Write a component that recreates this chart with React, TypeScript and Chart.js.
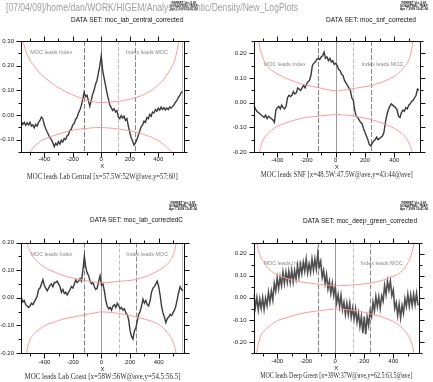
import React, { useEffect, useRef } from "react";
import { Chart, registerables } from "chart.js";
Chart.register(...registerables);

const W = 433;
const H = 382;

const header = "[07/04/09]/home/dan/WORK/HIGEM/Analysis/Atlantic/Density/New_LogPlots";
const logoLines = ["FERRET Ver. 5.81", "NOAA/PMEL TMAP", "Apr 7 2009 15:41:04"];
const noteLeft = "MOC leads Index";
const noteRight = "Index leads MOC";
const noteLeftLag = -350;
const noteRightLag = 320;

const lags = [
  -560, -550, -540, -530, -520, -510, -500, -490, -480, -470,
  -460, -450, -440, -430, -420, -410, -400, -390, -380, -370,
  -360, -350, -340, -330, -320, -310, -300, -290, -280, -270,
  -260, -250, -240, -230, -220, -210, -200, -190, -180, -170,
  -160, -150, -140, -130, -120, -110, -100, -90, -80, -70,
  -60, -50, -40, -30, -20, -10, 0, 10, 20, 30,
  40, 50, 60, 70, 80, 90, 100, 110, 120, 130,
  140, 150, 160, 170, 180, 190, 200, 210, 220, 230,
  240, 250, 260, 270, 280, 290, 300, 310, 320, 330,
  340, 350, 360, 370, 380, 390, 400, 410, 420, 430,
  440, 450, 460, 470, 480, 490, 500, 510, 520, 530,
  540, 550, 560, 570,
];

const labCentral = [
  -0.028, -0.038, -0.030, -0.042, -0.032, -0.040, -0.030, -0.045, -0.040, -0.052,
  -0.038, -0.045, -0.030, -0.022, -0.008, -0.015, -0.040, -0.055, -0.068, -0.080,
  -0.092, -0.100, -0.112, -0.128, -0.115, -0.122, -0.108, -0.118, -0.102, -0.110,
  -0.095, -0.100, -0.085, -0.080, -0.062, -0.058, -0.040, -0.035, -0.018, -0.010,
  0.008, 0.020, 0.038, 0.062, 0.092, 0.075, 0.080, 0.058, 0.035, 0.060,
  0.085, 0.100, 0.125, 0.140, 0.170, 0.200, 0.240, 0.180, 0.150, 0.120,
  0.090, 0.065, 0.040, 0.030, 0.018, 0.025, 0.012, 0.018, -0.008, -0.015,
  -0.002, -0.012, -0.005, -0.022, -0.015, -0.045, -0.070, -0.092, -0.105, -0.122,
  -0.112, -0.100, -0.082, -0.065, -0.048, -0.040, -0.025, -0.030, -0.010, -0.015,
  0.002, -0.005, 0.012, 0.008, 0.022, 0.015, 0.028, 0.020, 0.032, 0.022,
  0.030, 0.020, 0.028, 0.022, 0.032, 0.028, 0.035, 0.040, 0.052, 0.058,
  0.070, 0.078, 0.090, 0.095,
];

const snf = [
  -0.010, -0.025, -0.035, -0.040, -0.045, -0.050, -0.055, -0.060, -0.050, -0.065,
  -0.055, -0.060, -0.065, -0.070, -0.080, -0.030, -0.020, -0.015, -0.025, -0.010,
  -0.020, -0.025, -0.015, 0.020, 0.030, 0.025, 0.030, 0.045, 0.035, 0.040,
  0.060, 0.055, 0.050, 0.060, 0.070, 0.060, 0.075, 0.085, 0.090, 0.110,
  0.150, 0.160, 0.165, 0.175, 0.180, 0.175, 0.185, 0.190, 0.205, 0.180,
  0.185, 0.170, 0.180, 0.165, 0.170, 0.155, 0.160, 0.150, 0.135, 0.130,
  0.115, 0.110, 0.090, 0.080, 0.070, 0.060, 0.050, 0.020, 0.010, -0.030,
  -0.055, -0.060, -0.070, -0.080, -0.085, -0.105, -0.120, -0.135, -0.150, -0.170,
  -0.175, -0.165, -0.155, -0.150, -0.140, -0.150, -0.145, -0.140, -0.135, -0.120,
  -0.080, -0.050, -0.030, -0.015, -0.005, -0.010, -0.015, -0.020, -0.030, -0.055,
  -0.060, -0.040, -0.030, -0.035, -0.020, -0.025, -0.010, -0.005, 0.005, 0.010,
  0.020, 0.030, 0.055, 0.050,
];

const labCoast = [
  0.000, -0.015, -0.010, -0.025, -0.030, -0.035, -0.030, -0.020, -0.025, -0.015,
  -0.005, 0.005, 0.030, 0.035, 0.050, 0.065, 0.045, 0.035, 0.025, 0.035,
  0.045, 0.050, 0.040, 0.055, 0.055, 0.060, 0.050, 0.040, 0.020, 0.030,
  0.015, 0.020, 0.010, 0.020, 0.030, 0.040, 0.035, 0.050, 0.065, 0.055,
  0.060, 0.070, 0.060, 0.100, 0.150, 0.110, 0.090, 0.080, 0.060, 0.050,
  0.055, 0.040, 0.030, 0.035, 0.060, 0.080, 0.045, 0.050, 0.025, -0.010,
  -0.030, -0.040, -0.035, -0.045, -0.030, -0.025, -0.035, -0.020, -0.030, -0.040,
  -0.035, -0.045, -0.040, -0.055, -0.060, -0.080, -0.120, -0.140, -0.150, -0.120,
  -0.110, -0.085, -0.060, -0.050, -0.030, -0.005, -0.020, -0.010, -0.025, -0.030,
  -0.010, 0.020, 0.035, 0.040, 0.050, 0.060, 0.040, 0.010, -0.030, -0.055,
  -0.070, -0.090, -0.075, -0.070, -0.060, -0.065, -0.055, -0.045, -0.030, -0.005,
  0.020, 0.040, 0.030, 0.025,
];

const deepGreen = [
  0.015, -0.043, 0.000, -0.055, -0.005, -0.048, 0.000, -0.053, -0.002, -0.035,
  0.025, -0.020, 0.030, -0.010, 0.065, 0.030, 0.090, 0.042, 0.093, 0.055,
  0.115, 0.065, 0.115, 0.070, 0.120, 0.070, 0.125, 0.072, 0.123, 0.085,
  0.145, 0.095, 0.150, 0.110, 0.160, 0.120, 0.175, 0.112, 0.153, 0.115,
  0.175, 0.125, 0.175, 0.130, 0.200, 0.140, 0.165, 0.092, 0.123, 0.065,
  0.105, 0.040, 0.075, 0.020, 0.065, 0.010, 0.050, -0.023, 0.013, -0.040,
  0.010, -0.055, -0.020, -0.075, -0.025, -0.075, -0.025, -0.088, -0.047, -0.095,
  -0.050, -0.110, -0.070, -0.130, -0.085, -0.160, -0.085, -0.165, -0.087, -0.125,
  -0.060, -0.085, -0.020, -0.060, 0.005, -0.040, 0.005, -0.048, 0.008, -0.015,
  0.055, 0.015, 0.075, 0.035, 0.075, 0.010, 0.035, -0.048, -0.022, -0.080,
  -0.030, -0.090, -0.035, -0.070, -0.005, -0.040, 0.015, -0.038, 0.013, -0.035,
  0.015, -0.030, 0.020, -0.035,
];

const boundLags = [
  -560, -540, -520, -500, -480, -460, -440, -420, -400,
  -360, -320, -280, -240, -200, -160, -120, -80, -40, 0, 40, 80, 120, 160, 200, 240, 280, 320, 360,
  400, 420, 440, 460, 480, 500, 520, 540, 560,
];

const upper1 = [0.34, 0.28, 0.245, 0.222, 0.205, 0.19, 0.175, 0.163, 0.153,
  0.135, 0.118, 0.105, 0.092, 0.082, 0.072, 0.063, 0.057, 0.052, 0.050, 0.051, 0.053, 0.055, 0.059, 0.064, 0.070, 0.078, 0.089, 0.103,
  0.122, 0.133, 0.146, 0.162, 0.180, 0.200, 0.232, 0.285, 0.36];
const lower1 = [-0.26, -0.20, -0.17, -0.150, -0.135, -0.122, -0.112, -0.104, -0.098,
  -0.089, -0.081, -0.074, -0.067, -0.062, -0.058, -0.055, -0.053, -0.051, -0.051, -0.052, -0.054, -0.057, -0.060, -0.064, -0.069, -0.075, -0.083, -0.092,
  -0.104, -0.111, -0.120, -0.131, -0.142, -0.155, -0.175, -0.21, -0.27];
const upper2 = [0.40, 0.30, 0.225, 0.185, 0.155, 0.142, 0.132, 0.124, 0.117,
  0.104, 0.094, 0.085, 0.077, 0.071, 0.066, 0.061, 0.056, 0.051, 0.048, 0.050, 0.053, 0.057, 0.061, 0.065, 0.069, 0.076, 0.084, 0.094,
  0.106, 0.114, 0.126, 0.138, 0.152, 0.172, 0.215, 0.30, 0.40];
const lower2 = [-0.40, -0.27, -0.195, -0.155, -0.135, -0.123, -0.112, -0.103, -0.096,
  -0.086, -0.078, -0.070, -0.064, -0.060, -0.057, -0.055, -0.052, -0.050, -0.048, -0.049, -0.051, -0.054, -0.058, -0.063, -0.068, -0.075, -0.083, -0.092,
  -0.104, -0.111, -0.119, -0.128, -0.142, -0.162, -0.195, -0.27, -0.40];
const upper3 = [0.40, 0.27, 0.195, 0.170, 0.150, 0.137, 0.127, 0.118, 0.111,
  0.100, 0.091, 0.083, 0.076, 0.071, 0.067, 0.063, 0.059, 0.056, 0.054, 0.055, 0.057, 0.059, 0.061, 0.063, 0.066, 0.072, 0.079, 0.088,
  0.099, 0.105, 0.113, 0.121, 0.134, 0.153, 0.190, 0.27, 0.40];
const lower3 = [-0.40, -0.27, -0.19, -0.152, -0.136, -0.125, -0.116, -0.108, -0.102,
  -0.093, -0.086, -0.079, -0.074, -0.070, -0.066, -0.062, -0.058, -0.054, -0.051, -0.052, -0.054, -0.057, -0.060, -0.064, -0.069, -0.074, -0.080, -0.087,
  -0.097, -0.104, -0.114, -0.126, -0.140, -0.160, -0.195, -0.27, -0.40];
const upper4 = [0.36, 0.25, 0.195, 0.168, 0.150, 0.133, 0.121, 0.111, 0.104,
  0.093, 0.085, 0.078, 0.072, 0.068, 0.065, 0.062, 0.059, 0.056, 0.054, 0.055, 0.056, 0.058, 0.060, 0.063, 0.066, 0.071, 0.078, 0.086,
  0.097, 0.103, 0.110, 0.122, 0.137, 0.157, 0.188, 0.24, 0.36];
const lower4 = [-0.36, -0.25, -0.185, -0.158, -0.145, -0.132, -0.121, -0.112, -0.104,
  -0.095, -0.087, -0.079, -0.072, -0.067, -0.063, -0.060, -0.056, -0.053, -0.051, -0.052, -0.054, -0.057, -0.061, -0.066, -0.072, -0.078, -0.086, -0.096,
  -0.108, -0.115, -0.125, -0.137, -0.150, -0.168, -0.195, -0.245, -0.36];

const xMajorTicks = [-400, -200, 0, 200, 400];
const xMinorTicks = [-500, -300, -100, 100, 300, 500];
const vLines = [-120, 0, 120, 240];
const edgeLine = 565;

type Panel = {
  title: string;
  caption: string;
  values: number[];
  upper: number[];
  lower: number[];
  yMin: number;
  yMax: number;
  yMajor: number[];
  yMinor: number[];
  noteY: number;
  edge: boolean;
  area: [number, number, number, number];
  titleRight: number;
  titleY: number;
  titleW: number;
  captionY: number;
  captionW: number;
  tickY: number;
  xLabelY: number;
  logo: [number, number];
  lineColor: string;
  lineWidth: number;
};

const panels: Panel[] = [
  {
    title: "DATA SET: moc_lab_central_corrected",
    caption: "MOC leads Lab Central [x=57.5W:52W@ave,y=57:60]",
    values: labCentral, upper: upper1, lower: lower1,
    yMin: -0.15, yMax: 0.3,
    yMajor: [-0.1, 0, 0.1, 0.2, 0.3], yMinor: [-0.15, -0.05, 0.05, 0.15, 0.25],
    noteY: 0.255, edge: true,
    area: [21, 41, 183.5, 152], titleRight: 183, titleY: 20, titleW: 112,
    captionY: 176.7, captionW: 151, tickY: 159.5, xLabelY: 166.7, logo: [184, 1.5],
    lineColor: "#3a3a3a", lineWidth: 1.4,
  },
  {
    title: "DATA SET: moc_snf_corrected",
    caption: "MOC leads SNF [x=48.5W:47.5W@ave,y=43:44@ave]",
    values: snf, upper: upper2, lower: lower2,
    yMin: -0.2, yMax: 0.25,
    yMajor: [-0.2, -0.1, 0, 0.1, 0.2], yMinor: [-0.15, -0.05, 0.05, 0.15, 0.25],
    noteY: 0.156, edge: false,
    area: [253.5, 41, 420, 152], titleRight: 416, titleY: 20, titleW: 90,
    captionY: 175.5, captionW: 152, tickY: 160, xLabelY: 167.3, logo: [414, 1.5],
    lineColor: "#3a3a3a", lineWidth: 1.4,
  },
  {
    title: "DATA SET: moc_lab_correctedC",
    caption: "MOC leads Lab Coast [x=58W:56W@ave,y=54.5:56.5]",
    values: labCoast, upper: upper3, lower: lower3,
    yMin: -0.2, yMax: 0.2,
    yMajor: [-0.2, -0.1, 0, 0.1, 0.2], yMinor: [-0.15, -0.05, 0.05, 0.15],
    noteY: 0.156, edge: true,
    area: [21, 242.5, 184, 353], titleRight: 183, titleY: 220, titleW: 93,
    captionY: 376.7, captionW: 156, tickY: 362.7, xLabelY: 369, logo: [183, 201.5],
    lineColor: "#3a3a3a", lineWidth: 1.4,
  },
  {
    title: "DATA SET: moc_deep_green_corrected",
    caption: "MOC leads Deep Green [x=39W:37W@ave,y=62.5:63.5@ave]",
    values: deepGreen, upper: upper4, lower: lower4,
    yMin: -0.25, yMax: 0.25,
    yMajor: [-0.2, -0.1, 0, 0.1, 0.2], yMinor: [-0.25, -0.15, -0.05, 0.05, 0.15, 0.25],
    noteY: 0.156, edge: false,
    area: [253.5, 242.5, 419, 353], titleRight: 417, titleY: 221, titleW: 114,
    captionY: 376, captionW: 152, tickY: 361, xLabelY: 368.3, logo: [414, 201.5],
    lineColor: "#505050", lineWidth: 1.6,
  },
];

const vStyles = [
  { color: "#808080", dash: [5, 2] },
  { color: "#9a9a9a", dash: [] as number[] },
  { color: "#c0c0c0", dash: [4, 2] },
  { color: "#8a8a8a", dash: [5, 2] },
];

const SANS = '"Liberation Sans", Arial, sans-serif';
const SERIF = '"Liberation Serif", "Times New Roman", serif';

function makePlugin(p: Panel, idx: number) {
  return {
    id: "ferret" + idx,
    beforeDatasetsDraw(chart: any) {
      const ctx = chart.ctx as CanvasRenderingContext2D;
      const xs = chart.scales.x;
      const ys = chart.scales.y;
      const a = chart.chartArea;
      ctx.save();
      ctx.beginPath();
      ctx.rect(a.left, a.top, a.right - a.left, a.bottom - a.top);
      ctx.clip();
      ctx.lineWidth = 1;
      vLines.forEach((v, i) => {
        const st = vStyles[i];
        const px = Math.round(xs.getPixelForValue(v)) + 0.5;
        ctx.strokeStyle = st.color;
        ctx.setLineDash(st.dash);
        ctx.beginPath();
        ctx.moveTo(px, a.top);
        ctx.lineTo(px, a.bottom);
        ctx.stroke();
      });
      if (p.edge) {
        const px = Math.round(xs.getPixelForValue(edgeLine)) + 0.5;
        ctx.strokeStyle = "#c8c8c8";
        ctx.setLineDash([]);
        ctx.beginPath();
        ctx.moveTo(px, a.top);
        ctx.lineTo(px, a.bottom);
        ctx.stroke();
      }
      ctx.setLineDash([]);
      ctx.fillStyle = "#8a8a8a";
      ctx.font = "6px " + SANS;
      ctx.textAlign = "center";
      ctx.textBaseline = "middle";
      ctx.fillText(noteLeft, xs.getPixelForValue(noteLeftLag), ys.getPixelForValue(p.noteY), 42);
      ctx.fillText(noteRight, xs.getPixelForValue(noteRightLag), ys.getPixelForValue(p.noteY), 42);
      ctx.restore();
    },
    afterDraw(chart: any) {
      const ctx = chart.ctx as CanvasRenderingContext2D;
      const xs = chart.scales.x;
      const ys = chart.scales.y;
      const a = chart.chartArea;
      const L = Math.round(a.left) + 0.5;
      const R = Math.round(a.right) + 0.5;
      const T = Math.round(a.top) + 0.5;
      const B = Math.round(a.bottom) + 0.5;
      ctx.save();
      ctx.strokeStyle = "#111";
      ctx.lineWidth = 1;
      ctx.setLineDash([]);
      ctx.strokeRect(L, T, R - L, B - T);
      ctx.beginPath();
      const xt = (v: number, len: number) => {
        const px = Math.round(xs.getPixelForValue(v)) + 0.5;
        ctx.moveTo(px, B);
        ctx.lineTo(px, B + len);
        ctx.moveTo(px, T);
        ctx.lineTo(px, T - len);
      };
      const yt = (v: number, len: number) => {
        const py = Math.round(ys.getPixelForValue(v)) + 0.5;
        ctx.moveTo(L, py);
        ctx.lineTo(L - len, py);
        ctx.moveTo(R, py);
        ctx.lineTo(R + len, py);
      };
      xMajorTicks.forEach((v) => xt(v, 5));
      xMinorTicks.forEach((v) => xt(v, 3));
      p.yMajor.forEach((v) => yt(v, 5));
      p.yMinor.forEach((v) => yt(v, 3));
      ctx.stroke();

      ctx.fillStyle = "#222";
      ctx.font = "6px " + SANS;
      ctx.textAlign = "center";
      ctx.textBaseline = "middle";
      xMajorTicks.forEach((v) => {
        ctx.fillText(String(v), xs.getPixelForValue(v), p.tickY);
      });
      ctx.textAlign = "right";
      p.yMajor.forEach((v) => {
        ctx.fillText(v.toFixed(2), a.left - 7, ys.getPixelForValue(v));
      });
      const cx = (a.left + a.right) / 2;
      ctx.textAlign = "center";
      ctx.fillText("X", cx, p.xLabelY);

      ctx.fillStyle = "#333";
      ctx.font = "7.5px " + SERIF;
      ctx.fillText(p.caption, cx, p.captionY, p.captionW);

      ctx.fillStyle = "#111";
      ctx.font = "6.6px " + SANS;
      ctx.textAlign = "right";
      ctx.fillText(p.title, p.titleRight, p.titleY, p.titleW);

      ctx.font = "bold 3px " + SANS;
      ctx.textAlign = "center";
      ctx.textBaseline = "top";
      logoLines.forEach((s, i) => {
        ctx.fillText(s, p.logo[0], p.logo[1] + i * 3, 34);
      });

      if (idx === 0) {
        ctx.fillStyle = "#a0a0a0";
        ctx.font = "11px " + SANS;
        ctx.textAlign = "left";
        ctx.textBaseline = "middle";
        ctx.fillText(header, 6, 8, 292);
      }
      ctx.restore();
    },
  };
}

function PanelChart({ p, idx }: { p: Panel; idx: number }) {
  const ref = useRef<HTMLCanvasElement | null>(null);
  useEffect(() => {
    if (!ref.current) return;
    const [l, t, r, b] = p.area;
    const chart = new Chart(ref.current, {
      type: "line",
      data: {
        datasets: [
          {
            data: boundLags.map((x, i) => ({ x, y: p.upper[i] })),
            borderColor: "#ff9a9a",
            borderWidth: 1,
            pointRadius: 0,
            cubicInterpolationMode: "monotone",
            fill: false,
          },
          {
            data: boundLags.map((x, i) => ({ x, y: p.lower[i] })),
            borderColor: "#ff9a9a",
            borderWidth: 1,
            pointRadius: 0,
            cubicInterpolationMode: "monotone",
            fill: false,
          },
          {
            data: lags.map((x, i) => ({ x, y: p.values[i] })),
            borderColor: p.lineColor,
            borderWidth: p.lineWidth,
            pointRadius: 0,
            tension: 0,
            fill: false,
          },
        ],
      },
      options: {
        animation: false,
        responsive: false,
        devicePixelRatio: 1,
        events: [],
        layout: { padding: { left: l, top: t, right: W - r, bottom: H - b } },
        plugins: {
          legend: { display: false },
          tooltip: { enabled: false },
          title: { display: false },
        },
        scales: {
          x: { type: "linear", min: -563, max: 577, display: false },
          y: { type: "linear", min: p.yMin, max: p.yMax, display: false },
        },
      },
      plugins: [makePlugin(p, idx)],
    } as any);
    return () => chart.destroy();
  }, [p, idx]);
  return (
    <canvas
      ref={ref}
      width={W}
      height={H}
      style={{ position: "absolute", left: 0, top: 0, width: W, height: H }}
    />
  );
}

export default function App() {
  return (
    <div style={{ position: "absolute", left: 0, top: 0, width: W, height: H, background: "#fff", overflow: "hidden" }}>
      {panels.map((p, i) => (
        <PanelChart key={i} p={p} idx={i} />
      ))}
    </div>
  );
}
